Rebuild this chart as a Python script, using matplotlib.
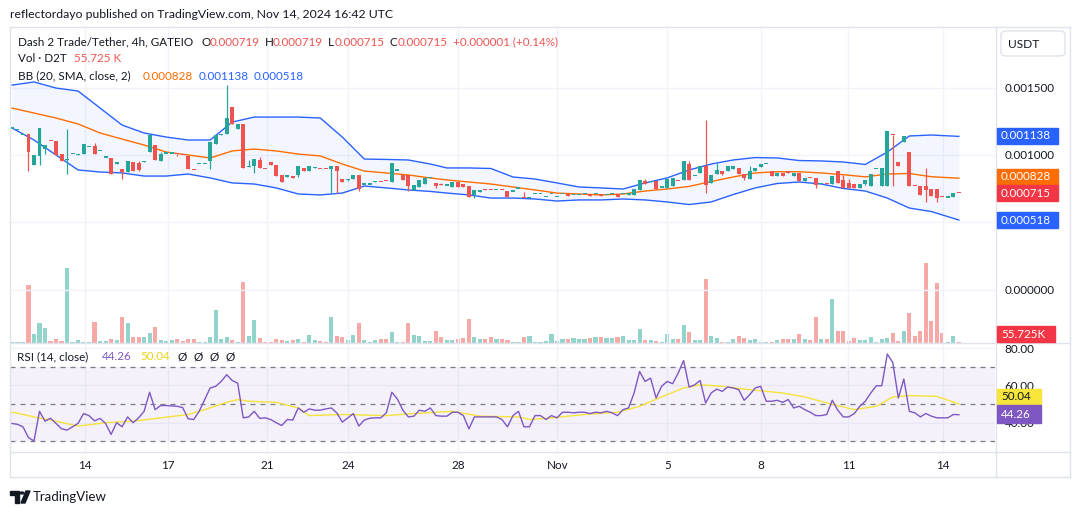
import numpy as np
import matplotlib.pyplot as plt
from matplotlib.patches import Rectangle, FancyBboxPatch, Polygon, Circle
from matplotlib.lines import Line2D

plt.rcParams['font.family'] = ['Lato', 'DejaVu Sans']

# D2T/USDT 4h candles, prices in 1e-6 USDT (oldest first)
opens = [1195, 1183, 1149, 1159, 929, 995, 1046, 1107, 1105, 1010,
         960, 1007, 998, 1010, 1058, 1068, 1029, 980, 978, 932,
         893, 873, 951, 939, 946, 1020, 1076, 954, 1010, 1010,
         1007, 1003, 995, 891, 934, 934, 959, 1085, 1146, 1159,
         1354, 1195, 1227, 913, 922, 966, 899, 951, 929, 849,
         837, 846, 849, 902, 880, 902, 899, 899, 898, 920,
         820, 812, 820, 854, 780, 780, 800, 799, 806, 800,
         885, 849, 849, 739, 763, 785, 827, 795, 781, 773,
         763, 802, 783, 768, 702, 729, 740, 742, 739, 740,
         732, 729, 751, 690, 678, 712, 712, 690, 712, 690,
         712, 701, 700, 700, 712, 701, 712, 701, 700, 712,
         712, 712, 702, 707, 739, 807, 798, 805, 759, 759,
         773, 806, 817, 934, 844, 868, 917, 793, 856, 885,
         880, 898, 902, 856, 824, 880, 910, 934, 885, 844,
         868, 871, 844, 868, 807, 833, 832, 785, 789, 788,
         885, 812, 790, 783, 756, 788, 768, 898, 768, 768,
         1150, 951, 1100, 1020, 774, 768, 768, 751, 746, 691,
         685, 690, 719]
highs = [1195, 1183, 1149, 1159, 1002, 1200, 1076, 1107, 1105, 1010,
         1190, 1007, 1009, 1083, 1058, 1090, 1029, 980, 978, 945,
         893, 959, 951, 954, 959, 1149, 1076, 1020, 1010, 1010,
         1007, 1003, 995, 891, 934, 934, 1100, 1149, 1159, 1520,
         1354, 1227, 1227, 966, 971, 988, 899, 951, 929, 849,
         849, 846, 920, 902, 915, 910, 899, 899, 920, 920,
         820, 820, 854, 854, 780, 780, 805, 799, 806, 944,
         885, 849, 849, 776, 817, 837, 827, 795, 795, 773,
         797, 802, 788, 768, 737, 741, 749, 742, 739, 740,
         732, 729, 751, 727, 678, 712, 712, 690, 712, 690,
         712, 701, 700, 700, 712, 707, 712, 701, 700, 712,
         712, 712, 715, 751, 815, 820, 805, 805, 759, 820,
         829, 806, 959, 959, 844, 917, 1259, 854, 939, 885,
         915, 922, 902, 856, 915, 905, 934, 934, 885, 863,
         868, 871, 863, 868, 832, 833, 832, 785, 789, 844,
         885, 851, 819, 783, 783, 812, 856, 898, 900, 1178,
         1150, 951, 1141, 1020, 774, 768, 905, 751, 746, 691,
         685, 715, 719]
lows = [1195, 1183, 1149, 880, 929, 924, 1007, 1103, 1002, 954,
        856, 1007, 998, 1010, 1058, 1005, 1029, 980, 859, 932,
        822, 873, 880, 880, 946, 1020, 963, 954, 1010, 1010,
        990, 1001, 895, 889, 934, 934, 895, 1085, 1146, 1159,
        1232, 1195, 902, 913, 866, 902, 897, 924, 844, 800,
        837, 829, 837, 880, 880, 902, 897, 897, 715, 715,
        798, 805, 820, 732, 780, 780, 800, 797, 804, 800,
        885, 812, 732, 739, 763, 785, 827, 756, 779, 773,
        763, 763, 763, 690, 680, 729, 738, 740, 739, 738,
        690, 729, 751, 678, 678, 712, 712, 690, 712, 690,
        712, 699, 700, 700, 712, 699, 712, 699, 700, 712,
        690, 712, 702, 707, 739, 783, 798, 749, 759, 759,
        773, 804, 817, 817, 844, 868, 719, 793, 856, 849,
        880, 898, 856, 815, 824, 880, 910, 934, 844, 844,
        844, 869, 844, 805, 807, 831, 759, 785, 787, 788,
        793, 756, 756, 756, 756, 778, 768, 898, 768, 768,
        768, 915, 1100, 768, 772, 702, 651, 698, 651, 689,
        685, 690, 715]
closes = [1195, 1183, 1149, 1020, 1002, 1200, 1076, 1103, 1002, 954,
          966, 1007, 1009, 1083, 1058, 1005, 1029, 980, 859, 945,
          873, 959, 880, 890, 959, 1149, 963, 1007, 1010, 1010,
          1005, 1001, 895, 889, 934, 934, 1100, 1149, 1159, 1276,
          1232, 1227, 902, 917, 971, 902, 897, 924, 844, 800,
          849, 829, 920, 880, 915, 910, 897, 897, 920, 880,
          798, 812, 854, 751, 780, 780, 800, 797, 804, 944,
          885, 812, 768, 776, 817, 829, 827, 768, 779, 773,
          797, 763, 763, 690, 737, 741, 738, 740, 739, 738,
          690, 729, 751, 678, 678, 712, 712, 690, 712, 690,
          712, 699, 700, 700, 712, 699, 712, 699, 700, 712,
          690, 712, 715, 751, 815, 783, 805, 749, 759, 820,
          829, 804, 959, 817, 844, 917, 780, 854, 890, 856,
          915, 922, 856, 827, 885, 905, 934, 934, 844, 863,
          844, 869, 863, 805, 832, 831, 776, 785, 787, 844,
          793, 756, 756, 756, 783, 812, 856, 898, 900, 1178,
          1145, 915, 1141, 768, 772, 702, 739, 698, 685, 689,
          685, 715, 715]

# volume, thousands of D2T
volume = [40, 40, 40, 2336, 351, 797, 594, 68, 149, 68,
          2984, 40, 108, 40, 27, 837, 68, 68, 149, 108,
          1040, 797, 230, 230, 230, 392, 635, 108, 68, 108,
          149, 68, 149, 149, 40, 40, 230, 1323, 149, 230,
          108, 40, 2457, 270, 918, 189, 40, 27, 149, 108,
          68, 108, 149, 40, 311, 108, 68, 27, 1040, 270,
          230, 108, 311, 797, 108, 27, 108, 149, 149, 432,
          27, 27, 797, 311, 270, 68, 68, 473, 230, 108,
          108, 149, 189, 959, 230, 149, 149, 230, 149, 149,
          108, 27, 27, 230, 270, 27, 27, 68, 351, 68,
          149, 149, 189, 149, 149, 189, 230, 230, 189, 189,
          230, 270, 108, 108, 554, 108, 108, 68, 27, 351,
          149, 149, 716, 432, 108, 108, 2579, 270, 189, 27,
          27, 149, 270, 189, 108, 149, 27, 27, 27, 108,
          149, 149, 149, 351, 149, 108, 1040, 149, 149, 1769,
          473, 473, 68, 189, 108, 108, 230, 27, 149, 189,
          392, 68, 473, 1202, 270, 473, 3200, 878, 2417, 392,
          27, 270, 56]

# Bollinger bands (20, 2), read at every few bars, 1e-6 USDT
bb_idx = [0, 4, 8, 12, 16, 20, 24, 28, 32, 36, 40, 44, 48, 52, 56, 60, 64, 68, 72, 76,
          79, 83, 87, 91, 95, 99, 103, 107, 111, 115, 119, 123, 127, 131, 135, 139,
          143, 147, 151, 155, 159, 163, 167, 172]
bb_upper = [1518, 1541, 1496, 1474, 1348, 1222, 1163, 1133, 1111, 1111,
            1244, 1281, 1281, 1281, 1274, 1133, 970, 967, 963, 933,
            904, 904, 900, 837, 822, 793, 763, 756, 748, 793,
            830, 889, 933, 963, 981, 978, 959, 956, 948, 930,
            1022, 1141, 1148, 1138]
bb_basis = [1348, 1311, 1274, 1230, 1163, 1118, 1074, 1022, 1000, 978,
            1030, 1044, 1030, 1007, 993, 933, 881, 867, 852, 830,
            815, 800, 785, 763, 741, 718, 711, 704, 711, 733,
            748, 767, 804, 837, 867, 876, 876, 867, 854, 838,
            859, 863, 839, 828]
bb_lower = [1200, 1111, 1000, 889, 874, 867, 844, 844, 859, 830,
            793, 785, 756, 711, 704, 718, 770, 756, 741, 730,
            718, 704, 681, 681, 674, 659, 667, 667, 674, 667,
            652, 633, 652, 707, 756, 789, 800, 785, 752, 733,
            681, 607, 581, 518]

# RSI (14, close) per bar
rsi = [39.6, 39.1, 37.8, 32.0, 30.2, 46.1, 40.8, 42.4, 39.6, 36.8,
       36.0, 37.8, 39.6, 44.9, 43.8, 41.0, 42.3, 39.6, 33.7, 40.0,
       37.8, 43.1, 40.0, 42.6, 46.1, 56.3, 47.0, 49.2, 49.2, 49.0,
       48.8, 48.1, 42.1, 41.7, 46.1, 52.4, 58.6, 59.5, 62.1, 65.7,
       62.6, 61.2, 42.6, 43.1, 46.1, 42.3, 42.6, 41.7, 40.0, 38.5,
       41.7, 41.4, 47.9, 45.6, 47.4, 46.7, 46.7, 47.4, 47.9, 45.3,
       40.3, 42.6, 44.9, 38.2, 41.4, 42.4, 42.6, 42.6, 45.3, 56.3,
       52.7, 46.7, 43.1, 43.5, 46.7, 46.1, 47.9, 43.8, 43.5, 43.5,
       45.6, 45.6, 43.8, 36.7, 43.1, 43.1, 43.1, 43.1, 43.1, 41.7,
       37.8, 43.8, 46.1, 37.8, 37.8, 43.8, 43.8, 41.7, 43.8, 42.6,
       45.6, 45.6, 45.3, 45.6, 45.6, 44.9, 45.6, 45.3, 46.1, 45.3,
       43.8, 47.0, 47.9, 55.9, 67.4, 62.1, 63.9, 53.2, 59.5, 62.1,
       60.9, 66.5, 73.3, 59.1, 60.3, 62.6, 50.6, 55.9, 58.0, 56.8,
       59.1, 58.6, 57.7, 52.0, 55.0, 58.6, 59.5, 51.5, 51.5, 52.0,
       50.9, 52.4, 47.9, 48.8, 47.0, 45.6, 43.8, 43.8, 44.4, 52.0,
       46.7, 43.1, 43.1, 44.9, 48.8, 51.5, 55.9, 59.8, 59.8, 76.8,
       72.2, 53.2, 63.4, 46.1, 45.3, 43.1, 44.9, 43.5, 42.6, 42.6,
       42.6, 44.4, 44.26]
# RSI-based MA, read at some bars
ma_idx = [0, 4, 8, 12, 17, 22, 27, 32, 35, 39, 41, 43, 48, 52, 54, 60, 68, 73, 80, 85,
          92, 94, 98, 104, 110, 114, 118, 122, 125, 129, 133, 137, 140, 144, 148,
          153, 157, 160, 163, 168, 172]
ma_val = [45.7, 43.1, 40.8, 38.2, 40.0, 40.8, 42.6, 44.4, 47.0, 50.9,
          52.4, 51.5, 50.9, 47.9, 43.8, 44.4, 43.8, 44.9, 46.1, 43.5,
          43.1, 41.7, 42.6, 44.4, 45.6, 48.8, 53.8, 58.6, 60.3, 59.5,
          58.0, 56.8, 55.9, 53.8, 50.6, 47.0, 48.8, 53.8, 54.5, 54.1, 50.04]

date_pos = [13.21, 28.34, 46.27, 61.09, 81.07, 99.06, 119.07, 136.0, 151.92, 169.06]
date_lbl = ['14', '17', '21', '24', '28', 'Nov', '5', '8', '11', '14']

UP, DN = '#26a69a', '#ef5350'
TXT = '#131722'
LINE = '#e0e3eb'
GRID = '#f0f3fa'
W, H = 1080, 515

o = np.array(opens) * 1e-6
h = np.array(highs) * 1e-6
l = np.array(lows) * 1e-6
c = np.array(closes) * 1e-6
idx = np.arange(len(o))
col = np.where(c >= o, UP, DN)
vcol = np.where(c >= o, '#92d3cc', '#f7a9a7')


def rect(x0, y0, x1, y1):
    return [x0 / W, 1 - y1 / H, (x1 - x0) / W, (y1 - y0) / H]


def ftext(x, y, s, **kw):
    kw.setdefault('color', TXT)
    kw.setdefault('size', 8.4)
    fig.text(x / W, 1 - y / H, s, va='center', ha='left', **kw)


def tag(y, s, bg, fg='white', x0=997, x1=1058, hh=16):
    fig.patches.append(Rectangle((x0 / W, 1 - (y + hh / 2) / H), (x1 - x0) / W, hh / H,
                                 transform=fig.transFigure, color=bg, zorder=5))
    fig.text((x0 + 4) / W, 1 - y / H, s, color=fg, size=8.4, va='center', ha='left', zorder=6)


def fline(x0, y0, x1, y1):
    fig.add_artist(Line2D([x0 / W, x1 / W], [1 - y0 / H, 1 - y1 / H], color=LINE, lw=1))


fig = plt.figure(figsize=(W / 100, H / 100), dpi=100)

axv = fig.add_axes(rect(10, 28, 995, 343))
ax = fig.add_axes(rect(10, 28, 995, 343), sharex=axv)
axr = fig.add_axes(rect(10, 343, 995, 452), sharex=axv)
ax.patch.set_visible(False)

# volume overlay
axv.bar(idx, volume, width=0.75, color=vcol, linewidth=0)
axv.set_ylim(0, 12600)
axv.axis('off')

# bollinger bands
ax.fill_between(bb_idx, np.array(bb_lower) * 1e-6, np.array(bb_upper) * 1e-6,
                color='#2962ff', alpha=0.05, linewidth=0)
ax.plot(bb_idx, np.array(bb_upper) * 1e-6, color='#2962ff', lw=1)
ax.plot(bb_idx, np.array(bb_lower) * 1e-6, color='#2962ff', lw=1)
ax.plot(bb_idx, np.array(bb_basis) * 1e-6, color='#ff6d00', lw=1)

# candles
ax.vlines(idx, l, h, colors=col, lw=0.9, zorder=3)
ax.bar(idx, np.maximum(np.abs(c - o), 9e-6), bottom=np.minimum(o, c), width=0.72,
       color=col, linewidth=0, zorder=3)

ax.set_xlim(-0.36, 178.56)
ax.set_ylim(-0.000393, 0.001941)
ax.yaxis.tick_right()
ax.set_yticks([0, 0.0005, 0.001, 0.0015])
ax.set_yticklabels(['0.000000', '', '0.001000', '0.001500'])
ax.set_xticks(date_pos)
ax.tick_params(length=0, labelbottom=False, labelsize=8.4, colors=TXT, pad=7)
ax.grid(color=GRID, lw=1)
ax.set_axisbelow(True)
for s in ax.spines.values():
    s.set_visible(False)

# RSI pane
axr.axhspan(30, 70, color='#7e57c2', alpha=0.08, lw=0)
for lvl in (70, 50, 30):
    axr.axhline(lvl, color='#787b86', lw=0.9, ls=(0, (4, 4)))
axr.plot(ma_idx, ma_val, color='#f5e23a', lw=1)
axr.plot(idx, rsi, color='#7e57c2', lw=1)
axr.set_ylim(24.3, 82.7)
axr.yaxis.tick_right()
axr.set_yticks([40, 60, 80])
axr.set_yticklabels(['40.00', '60.00', '80.00'])
axr.set_xticks(date_pos)
axr.set_xticklabels(date_lbl)
axr.tick_params(length=0, labelsize=8.4, colors=TXT)
axr.tick_params(axis='y', pad=7)
axr.tick_params(axis='x', pad=6)
axr.grid(color=GRID, lw=1)
axr.set_axisbelow(True)
for s in axr.spines.values():
    s.set_visible(False)

# frame
fline(10, 27, 1070, 27)
fline(10, 343, 1070, 343)
fline(10, 452, 1070, 452)
fline(10, 477, 1070, 477)
fline(10, 27, 10, 477)
fline(996, 27, 996, 477)
fline(1070, 27, 1070, 477)

# header texts
ftext(10, 14, 'reflectordayo published on TradingView.com, Nov 14, 2024 16:42 UTC', size=8.8)
red = '#ef5350'
ftext(18, 42, 'Dash 2 Trade/Tether, 4h, GATEIO')
for x, s, cc in [(201, 'O', TXT), (210, '0.000719', red), (265, 'H', TXT), (273, '0.000719', red),
                 (328, 'L', TXT), (335, '0.000715', red), (390, 'C', TXT), (398, '0.000715', red),
                 (453, '+0.000001 (+0.14%)', red)]:
    ftext(x, 42, s, color=cc)
ftext(18, 59, 'Vol · D2T')
ftext(74, 59, '55.725 K', color=red)
ftext(18, 76, 'BB (20, SMA, close, 2)')
ftext(143, 76, '0.000828', color='#ff6d00')
ftext(199, 76, '0.001138', color='#2962ff')
ftext(254, 76, '0.000518', color='#2962ff')
ftext(17, 357, 'RSI (14, close)')
ftext(102, 357, '44.26', color='#7e57c2')
ftext(140, 357, '50.04', color='#e8d31a')
for x in (178, 193, 210, 225):
    ftext(x, 357, 'Ø')

# USDT box
fig.patches.append(FancyBboxPatch((1001 / W, 1 - 56 / H), 64 / W, 25 / H,
                                  boxstyle='round,pad=0,rounding_size=0.006',
                                  transform=fig.transFigure, fc='white', ec=LINE, lw=1))
ftext(1008, 44, 'USDT', size=8.6)

# last-value tags
tag(135.5, '0.001138', '#2962ff')
tag(176.5, '0.000828', '#ff6d00')
tag(193.3, '0.000715', '#f23645')
tag(220.3, '0.000518', '#2962ff')
tag(334, '55.725K', '#f23645', x1=1055)
tag(396.5, '50.04', '#f7e53b', fg=TXT, x1=1041, hh=15)
tag(414, '44.26', '#7e57c2', x1=1041, hh=18)

# TradingView logo
fig.patches.append(Polygon([(10 / W, 1 - 491 / H), (19 / W, 1 - 491 / H), (19 / W, 1 - 503 / H),
                            (15 / W, 1 - 503 / H), (15 / W, 1 - 495 / H), (10 / W, 1 - 495 / H)],
                           closed=True, transform=fig.transFigure, color=TXT))
fig.patches.append(Circle((22 / W, 1 - 493 / H), 2 / W, transform=fig.transFigure, color=TXT))
fig.patches.append(Polygon([(21 / W, 1 - 503 / H), (26 / W, 1 - 491 / H), (30 / W, 1 - 491 / H),
                            (25 / W, 1 - 503 / H)], closed=True, transform=fig.transFigure, color=TXT))
ftext(33, 497, 'TradingView', size=9.5)

fig.savefig('out.png', dpi=100, facecolor='white')
